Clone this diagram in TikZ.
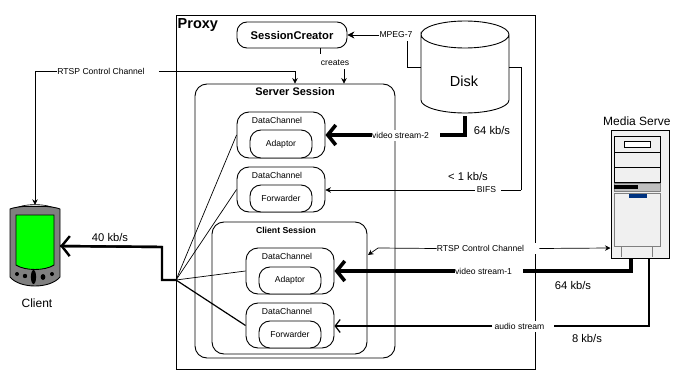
\documentclass[tikz,border=0pt]{standalone}
\usepackage{fontspec}
\setmainfont{Liberation Sans}
\usetikzlibrary{arrows.meta}
\definecolor{pdagrey}{RGB}{128,128,128}
\definecolor{srvgrey}{RGB}{240,240,240}
\definecolor{srvblue}{RGB}{0,51,128}
\tikzset{
  boxr/.style={draw,rounded corners=#1,line width=0.9pt,fill=white,inner sep=0pt},
  tiny8/.style={font=\fontsize{8.6}{9}\selectfont,inner sep=0pt},
  big11/.style={font=\fontsize{11.2}{12}\selectfont,inner sep=0pt},
  flowlabel/.style={tiny8,fill=white,minimum height=11pt},
  thin0/.style={line width=0.7pt},
  thin1/.style={line width=0.7pt,-{Stealth[length=5.5pt,width=5.5pt]}},
  mid1/.style={line width=1.2pt,-{Straight Barb[length=5pt,width=13pt]}},
  fat0/.style={line width=2.4pt},
  fat1/.style={line width=3.6pt},
  fatarrow/.style={-{Straight Barb[length=8pt,width=20pt]}}
}
\begin{document}
\begin{tikzpicture}[x=1pt,y=-1pt]
\useasboundingbox (0,0) rectangle (673,372);
% Proxy
\node[draw,line width=0.9pt,minimum width=359pt,minimum height=353.5pt,inner sep=0pt] (proxy) at (355.5,192.25) {};
\node[anchor=north west,inner sep=0pt,font=\fontsize{14.5}{15}\bfseries\selectfont] (proxylabel) at (177.5,18) {Proxy};
% Session creator
\node[boxr=10pt,minimum width=110pt,minimum height=26pt,font=\fontsize{11.2}{12}\bfseries\selectfont] (creator) at (292,35) {SessionCreator};
% Server session
\node[boxr=12pt,minimum width=200pt,minimum height=274pt] (server) at (295,221) {};
\node[inner sep=0pt,font=\fontsize{11}{12}\bfseries\selectfont] (serverlabel) at (295,92) {Server Session};
% Data channels of the server session
\node[boxr=12pt,minimum width=88pt,minimum height=46pt] (dca) at (281,135) {};
\node[tiny8] (dcalabel) at (277,120) {DataChannel};
\node[boxr=11pt,minimum width=62pt,minimum height=28pt,tiny8] (adaptora) at (281,144) {Adaptor};
\node[boxr=12pt,minimum width=88pt,minimum height=45pt] (dcb) at (281,189.5) {};
\node[tiny8] (dcblabel) at (277,175) {DataChannel};
\node[boxr=11pt,minimum width=62pt,minimum height=27pt,tiny8] (forwardera) at (281,198.5) {Forwarder};
% Client session
\node[boxr=12pt,minimum width=155pt,minimum height=132pt] (client) at (289.5,288) {};
\node[inner sep=0pt,font=\fontsize{8.7}{9}\bfseries\selectfont] (clientlabel) at (286,230) {Client Session};
\node[boxr=12pt,minimum width=88pt,minimum height=46pt] (dcc) at (290,271) {};
\node[tiny8] (dcclabel) at (287,256) {DataChannel};
\node[boxr=11pt,minimum width=62pt,minimum height=27pt,tiny8] (adaptorb) at (290,280.5) {Adaptor};
\node[boxr=12pt,minimum width=88pt,minimum height=45pt] (dcd) at (290,325.5) {};
\node[tiny8] (dcdlabel) at (287,311) {DataChannel};
\node[boxr=11pt,minimum width=62pt,minimum height=27pt,tiny8] (forwarderb) at (290,334.5) {Forwarder};
% Disk
\draw[line width=0.9pt,fill=white] (421,34.5) arc[start angle=180,end angle=360,x radius=44,y radius=13.5] arc[start angle=0,end angle=180,x radius=44,y radius=13.5] -- (421,100) arc[start angle=180,end angle=0,x radius=44,y radius=13] -- (509,34.5);
\node[inner sep=0pt,minimum width=88pt,minimum height=92pt] (disk) at (465,67) {};
\node[inner sep=0pt,font=\fontsize{14.5}{15}\selectfont] (disklabel) at (464,81) {Disk};
% Client device
\draw[line width=0.9pt,fill=pdagrey] (10,209) .. controls (20,205) and (50,205) .. (60,209) -- (60,277) .. controls (50,289) and (20,289) .. (10,277) -- cycle;
\draw[line width=0.6pt,fill=white!85!black] (20,206.5) .. controls (28,204) and (42,204) .. (50,206.5) -- cycle;
\draw[line width=0.9pt,fill=green] (16,215) -- (54,215) -- (54,265) .. controls (45,271) and (25,271) .. (16,265) -- cycle;
\fill (17,274) circle (2pt);
\fill (25,276) circle (2.2pt);
\fill (33.5,277) ellipse (2.6pt and 7pt);
\fill (43,277) ellipse (2.4pt and 3pt);
\fill (52,274) circle (2pt);
\node[inner sep=0pt,minimum width=50pt,minimum height=82pt] (pda) at (35,246) {};
\node[inner sep=0pt,font=\fontsize{12}{13}\selectfont] (pdalabel) at (37,303) {Client};
% Media server
\node[draw,line width=1pt,fill=srvgrey,minimum width=58pt,minimum height=128pt,inner sep=0pt] (media) at (640,194) {};
\node[inner sep=0pt,anchor=west,font=\fontsize{12}{13}\selectfont] (medialabel) at (603,121) {Media Serve};
\draw[line width=0.9pt] (614,136) rectangle (660,182);
\draw[line width=0.7pt] (614,152) -- (660,152);
\draw[line width=0.7pt] (614,167) -- (660,167);
\draw[line width=1pt,fill=white] (624,141) rectangle (650,147);
\draw[line width=0.6pt,draw=pdagrey,fill=black!25] (614,183) rectangle (660,191);
\fill (614,185) rectangle (638,189);
\draw[line width=0.7pt,draw=pdagrey,fill=srvgrey] (614,193) rectangle (660,246);
\fill[srvblue] (629,194) rectangle (647,198);
\draw[line width=0.6pt,draw=pdagrey] (621,246) -- (621,257);
\draw[line width=0.6pt,draw=pdagrey] (652,246) -- (652,257);
% Labels on the connectors
\node[tiny8] (creates) at (335,63) {creates};
\node[flowlabel] (mpeglabel) at (396,35) {MPEG-7};
\node[flowlabel] (rtsplabela) at (108,71) {RTSP Control Channel\hspace*{14pt}};
\node[flowlabel] (vidlabela) at (406,135) {video stream-2\hspace*{11pt}};
\node[flowlabel] (bifslabel) at (488,190) {\hspace*{2pt}BIFS\hspace*{5pt}};
\node[flowlabel] (rtsplabelb) at (488,248.5) {RTSP Control Channel\hspace*{15pt}};
\node[flowlabel] (vidlabelb) at (489,271) {video stream-1\hspace*{11pt}};
\node[flowlabel] (audlabel) at (523,326) {\hspace*{2pt}audio stream\hspace*{9pt}};
% Bends and free ends
\coordinate (hub) at (176,280);
\coordinate (rtspa) at (35,71);
\coordinate (rtspb) at (295,71);
\coordinate (turna) at (162,247);
\coordinate (turnb) at (162,280);
\coordinate (crstub) at (320,54);
\coordinate (crarrow) at (344,69);
\coordinate (mpegturn) at (407,41);
\coordinate (bifsturn) at (521,190);
\coordinate (vidturn) at (465,135);
\coordinate (rtspc) at (378,248);
\coordinate (rtspd) at (368,255);
\coordinate (vidb) at (631,271);
\coordinate (audb) at (649,326);
% Connectors
\draw[fat0] (hub) -- (turnb) -- (turna) -- (pda.east);
\draw[fat0,fatarrow] (turna) -- (pda.east);
\draw[thin0] (hub) -- (dca.west);
\draw[thin0] (hub) -- (dcb.west);
\draw[thin0] (hub) -- (dcc.west);
\draw[line width=1.2pt] (hub) -- (dcd.west);
\draw[thin1] (rtspa) -- (rtspa|-pda.north);
\draw[thin0] (rtspa) -- (rtsplabela);
\draw[thin0] (rtsplabela.east) -- (rtspb);
\draw[thin1] (rtspb) -- (rtspb|-server.north);
\draw[thin0] (creator.south-|crstub) -- (crstub);
\draw[thin1] (crarrow) -- (crarrow|-server.north);
\draw[line width=0.7pt,-{Stealth[length=7pt,width=7pt]}] (mpeglabel) -- (creator.east);
\draw[thin0] (mpegturn) |- (disk.west);
\draw[thin0] (disk.east) -| (bifsturn);
\draw[thin0] (bifsturn) -- (bifslabel);
\draw[thin1] (bifslabel) -- (dcb.east|-bifslabel);
\draw[fat1,shorten <=3pt] (disk.south) -- (vidturn) -- (vidlabela);
\draw[fat1,fatarrow] (vidlabela) -- (dca.east);
\draw[thin1] (rtsplabelb.east) -- (media.west|-rtspc);
\draw[thin0] (rtsplabelb.west) -- (rtspc);
\draw[thin1] (rtspc) -- (rtspd);
\draw[fat1] (media.south-|vidb) -- (vidb) -- (vidlabelb.east);
\draw[fat1,fatarrow] (vidlabelb.west) -- (dcc.east|-vidb);
\draw[line width=1.2pt] (media.south-|audb) -- (audb) -- (audlabel.east);
\draw[mid1] (audlabel.west) -- (dcd.east|-audb);
% Rates
\node[big11] (ratea) at (110,237) {40 kb/s};
\node[big11] (rateb) at (492,130) {64 kb/s};
\node[big11] (ratec) at (468,176) {< 1 kb/s};
\node[big11] (rated) at (573,285) {64 kb/s};
\node[big11] (ratee) at (587,338) {8 kb/s};
\end{tikzpicture}
\end{document}
